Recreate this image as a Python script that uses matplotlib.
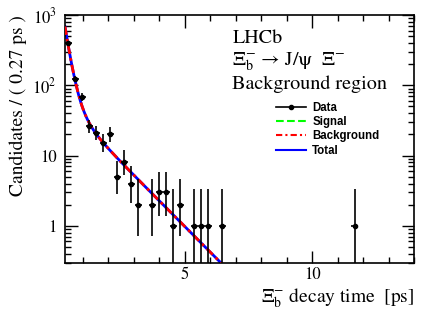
import math
import numpy as np
import matplotlib
matplotlib.use('Agg')
import matplotlib.pyplot as plt
from matplotlib.lines import Line2D
from matplotlib.ticker import MultipleLocator, LogLocator, FixedLocator, FixedFormatter, NullFormatter

plt.rcParams['font.family'] = 'STIXGeneral'
plt.rcParams['mathtext.fontset'] = 'stix'

# histogram: 50 bins between 0.3 and 14 ps
t_min, t_max, n_bins = 0.3, 14.0, 50
counts = [397, 123, 68, 26, 21, 15, 20, 5, 8, 4,
          2, 0, 2, 3, 3, 1, 2, 0, 1, 1,
          1, 0, 1, 0, 0, 0, 0, 0, 0, 0,
          0, 0, 0, 0, 0, 0, 0, 0, 0, 0,
          0, 1, 0, 0, 0, 0, 0, 0, 0, 0]

# fitted background shape (candidates per bin): amplitudes and lifetimes
bkg_amp = [3090.0, 119.0, 65.4]
bkg_tau = [0.18, 0.35, 1.19]
sig_amp = 0.0


def pois_cdf(n, mu):
    if mu <= 0:
        return 1.0
    return sum(math.exp(-mu + k * math.log(mu) - math.lgamma(k + 1)) for k in range(n + 1))


def pois_err(n, alpha=0.158655):
    # classic central interval, like RooFit's Poisson errors
    lo_mu = 0.0
    if n > 0:
        a, b = 0.0, float(n)
        for _ in range(60):
            m = 0.5 * (a + b)
            if 1 - pois_cdf(n - 1, m) > alpha:
                b = m
            else:
                a = m
        lo_mu = 0.5 * (a + b)
    a, b = float(n), n + 10 + 5 * math.sqrt(n + 1)
    for _ in range(60):
        m = 0.5 * (a + b)
        if pois_cdf(n, m) > alpha:
            a = m
        else:
            b = m
    hi_mu = 0.5 * (a + b)
    return n - lo_mu, hi_mu - n


width = (t_max - t_min) / n_bins
centers = t_min + width * (np.arange(n_bins) + 0.5)
counts = np.array(counts)
keep = counts > 0
x = centers[keep]
y = counts[keep]
errs = np.array([pois_err(int(n)) for n in y]).T

t = np.linspace(t_min, t_max, 600)
bkg = sum(a * np.exp(-t / tau) for a, tau in zip(bkg_amp, bkg_tau))
sig = sig_amp * np.exp(-t / 1.5)
total = bkg + sig

fig = plt.figure(figsize=(4.36, 3.13), dpi=100)
ax = fig.add_axes([0.149, 0.161, 0.801, 0.791])

ax.plot(t, total, color='#0000ff', lw=2.0, zorder=2)
ax.plot(t, bkg, color='#ff0000', lw=2.0, ls=(0, (3, 1.5, 1, 1.5)), zorder=3)
ax.errorbar(x, y, yerr=errs, xerr=width / 2, fmt='o', color='black', ms=3,
            elinewidth=1.2, capsize=0, zorder=4)

ax.set_yscale('log')
ax.set_xlim(t_min, t_max)
ax.set_ylim(0.3, 1000)

ax.xaxis.set_major_locator(FixedLocator([5, 10]))
ax.xaxis.set_minor_locator(MultipleLocator(1))
ax.yaxis.set_major_locator(FixedLocator([1, 10, 100, 1000]))
ax.yaxis.set_major_formatter(FixedFormatter(['1', '10', '$10^2$', '$10^3$']))
ax.yaxis.set_minor_locator(LogLocator(base=10, subs=np.arange(2, 10)))
ax.yaxis.set_minor_formatter(NullFormatter())
ax.tick_params(which='both', direction='in', top=True, right=True, labelsize=12)
ax.tick_params(which='major', length=9, width=1)
ax.tick_params(which='minor', length=4.5, width=1)
ax.tick_params(axis='y', pad=6)
for sp in ax.spines.values():
    sp.set_linewidth(1.2)

ax.set_ylabel('Candidates / ( 0.27 ps )', fontsize=14, loc='top', labelpad=4)
ax.set_xlabel(r'$\Xi_{\mathrm{b}}^{-}$ decay time  [ps]', fontsize=14, loc='right', labelpad=2)

fig.text(0.533, 0.878, 'LHCb', fontsize=14.5, va='center')
fig.text(0.533, 0.802, '$\\Xi_{\\mathrm{b}}^{-}$ \u2192 J/\u03c8  $\\Xi^{-}$', fontsize=14.5, va='center')
fig.text(0.533, 0.731, 'Background region', fontsize=14.5, va='center')

legend_handles = [
    Line2D([], [], color='black', lw=1.2, marker='o', ms=3),
    Line2D([], [], color='#00ff00', lw=1.5, ls='--'),
    Line2D([], [], color='#ff0000', lw=1.5, ls=(0, (3, 1.5, 1, 1.5))),
    Line2D([], [], color='#0000ff', lw=1.5),
]
ax.legend(legend_handles, ['Data', 'Signal', 'Background', 'Total'],
          loc='upper left', bbox_to_anchor=(0.633, 0.675), bbox_transform=fig.transFigure,
          frameon=False, handlelength=2.6, handletextpad=0.55, labelspacing=0.2,
          borderpad=0, borderaxespad=0,
          prop={'family': 'Liberation Sans', 'weight': 'bold', 'size': 8.3})

fig.savefig('out.png', dpi=100)
